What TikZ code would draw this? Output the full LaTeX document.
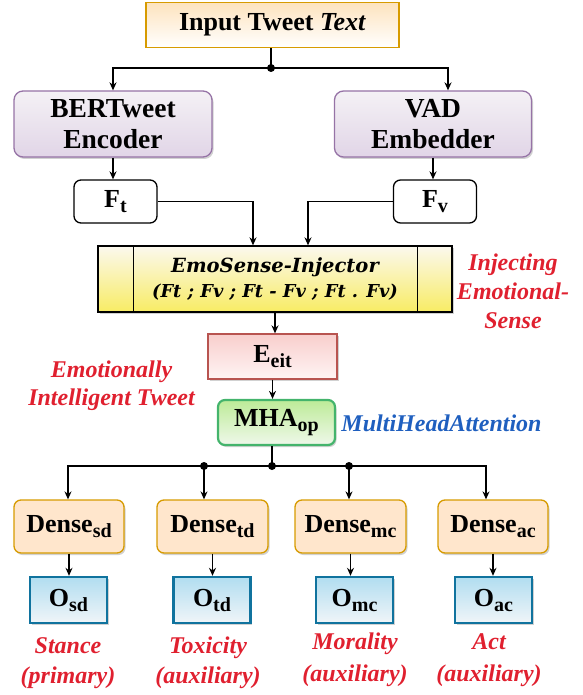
\documentclass[tikz,border=0pt]{standalone}
\usepackage{fontspec}
\setmainfont{Liberation Serif}
\newfontfamily\dvs{DejaVu Serif}
\usetikzlibrary{arrows.meta,shadows,calc}
\definecolor{redlab}{HTML}{E0202F}
\definecolor{bluelab}{HTML}{1F5FBF}
\definecolor{densefill}{HTML}{FFE6CC}
\definecolor{densestroke}{HTML}{D79B00}
\definecolor{otop}{HTML}{B1DDF0}
\definecolor{obot}{HTML}{F0F5F8}
\definecolor{ostroke}{HTML}{10739E}
\definecolor{purptop}{HTML}{F4F1F5}
\definecolor{purpbot}{HTML}{E1D5E7}
\definecolor{purpstroke}{HTML}{9673A6}
\definecolor{inptop}{HTML}{FDE3BE}
\definecolor{injtop}{HTML}{FBF8EE}
\definecolor{injbot}{HTML}{F8EC64}
\definecolor{etop}{HTML}{F8CECC}
\definecolor{ebot}{HTML}{FFF4F4}
\definecolor{estroke}{HTML}{B85450}
\definecolor{mtop}{HTML}{BDEB98}
\definecolor{mbot}{HTML}{EFF8EA}
\definecolor{mstroke}{HTML}{44B46C}
\newcommand{\sbx}[1]{\raisebox{-5pt}{\fontsize{20}{20}\selectfont #1}}
\begin{document}
\begin{tikzpicture}[x=1pt,y=-1pt,
 every node/.style={inner sep=0pt, align=center},
 lbl/.style={font=\fontsize{26}{31}\selectfont\bfseries},
 shad/.style={drop shadow={shadow xshift=1.5pt, shadow yshift=-2pt, opacity=0.18, fill=black}},
 inbox/.style={lbl, draw=#1, line width=1.3pt},
 arr/.style={-{Stealth[length=8pt,width=7pt]}, line width=1.2pt},
 ln/.style={line width=1.2pt},
 dot/.style={circle, fill=black, minimum size=8pt, inner sep=0pt},
 redl/.style={font=\fontsize{24}{30}\selectfont\bfseries\itshape, text=redlab},
 densebox/.style={inbox=densestroke, rounded corners=7pt, fill=densefill, shad, minimum width=110pt, minimum height=53pt},
 obox/.style={inbox=ostroke, line width=2.4pt, top color=otop, bottom color=obot, shad, minimum width=77pt, minimum height=46pt},
 fbox/.style={inbox=black, rounded corners=7pt, fill=white, minimum width=83pt, minimum height=43pt},
 purp/.style={inbox=purpstroke, rounded corners=9pt, top color=purptop, bottom color=purpbot, shad, minimum width=198pt, minimum height=66pt, font=\fontsize{27.5}{31}\selectfont\bfseries},
]
\useasboundingbox (0,0) rectangle (582,695);

% top
\node[inbox=densestroke, top color=inptop, bottom color=white, minimum width=253pt, minimum height=45pt] (inp) at (272.5,25) {Input Tweet \textit{Text}};
\coordinate (j1) at (271,68);
\node[purp] (bert) at (113,124) {BERTweet\\Encoder};
\node[purp, minimum width=197pt] (vad) at (433,124) {VAD\\Embedder};
\node[fbox] (ft) at (115.5,201.5) {F\sbx{t}};
\node[fbox] (fv) at (435,201.5) {F\sbx{v}};

\node[draw=black, line width=1.3pt, top color=injtop, bottom color=injbot, shad, minimum width=354pt, minimum height=66pt] (inj) at (275,279)
 {{\dvs\bfseries\itshape\fontsize{19.5}{19.5}\selectfont EmoSense-Injector}\\[6pt]{\dvs\bfseries\itshape\fontsize{17.8}{17.8}\selectfont (Ft ; Fv ; Ft - Fv ; Ft . Fv)}};
\draw[line width=1.3pt] ($(inj.north west)+(36,0)$) -- ($(inj.south west)+(36,0)$);
\draw[line width=1.3pt] ($(inj.north east)+(-35,0)$) -- ($(inj.south east)+(-35,0)$);

\node[inbox=estroke, top color=etop, bottom color=ebot, shad, minimum width=129pt, minimum height=45pt] (eeit) at (272.5,356.5) {E\sbx{eit}};
\node[inbox=mstroke, line width=2.2pt, rounded corners=7pt, top color=mtop, bottom color=mbot, shad, minimum width=117pt, minimum height=45pt] (mha) at (276.5,422.5) {MHA\sbx{op}};

\coordinate (j2) at (272,466);
\coordinate (j3) at (204,466);
\coordinate (j4) at (349,466);

\node[densebox] (dsd) at (69,526.5) {Dense\sbx{sd}};
\node[densebox, minimum width=111pt] (dtd) at (212.5,526.5) {Dense\sbx{td}};
\node[densebox, minimum width=111pt] (dmc) at (350.5,526.5) {Dense\sbx{mc}};
\node[densebox] (dac) at (493,526.5) {Dense\sbx{ac}};

\node[obox] (osd) at (68.5,600) {O\sbx{sd}};
\node[obox] (otd) at (212,600) {O\sbx{td}};
\node[obox] (omc) at (354.5,600) {O\sbx{mc}};
\node[obox] (oac) at (493.5,600) {O\sbx{ac}};

% labels
\node[redl] (lsd) at (68,663) {Stance\\(primary)};
\node[redl] (ltd) at (208,663) {Toxicity\\(auxiliary)};
\node[redl, font=\fontsize{24}{32}\selectfont\bfseries\itshape] (lmc) at (355,660) {Morality\\(auxiliary)};
\node[redl, font=\fontsize{24}{32}\selectfont\bfseries\itshape] (lac) at (489,660) {Act\\(auxiliary)};
\node[redl, font=\fontsize{24}{29}\selectfont\bfseries\itshape] (linj) at (513,291) {Injecting\\Emotional-\\Sense};
\node[redl, font=\fontsize{24}{28}\selectfont\bfseries\itshape] (leit) at (111.5,386) {Emotionally\\Intelligent Tweet};
\node[font=\fontsize{24}{28}\selectfont\bfseries\itshape, text=bluelab] (lmha) at (441.5,423) {MultiHeadAttention};

% connectors
\draw[ln] (inp.south -| j1) -- (j1);
\draw[arr] (j1) -| (bert.north);
\draw[arr] (j1) -| ([xshift=15pt]vad.north);
\node[dot] at (j1) {};
\draw[arr] (bert.south) -- (bert.south |- ft.north);
\draw[arr] (vad.south) -- (vad.south |- fv.north);
\draw[arr] (ft.east) -| ($(inj.north)+(-22,0)$);
\draw[arr] (fv.west) -| ($(inj.north)+(33,0)$);
\draw[arr] (inj.south) -- (inj.south |- eeit.north);
\draw[arr] (eeit.south) -- (eeit.south |- mha.north);
\draw[ln] (mha.south -| j2) -- (j2);
\draw[arr] (j2) -| ([xshift=-1pt]dsd.north);
\draw[arr] (j3) -- (j3 |- dtd.north);
\draw[arr] (j4) -- (j4 |- dmc.north);
\draw[arr] (j2) -| ([xshift=-7pt]dac.north);
\node[dot] at (j2) {};
\node[dot] at (j3) {};
\node[dot] at (j4) {};
\draw[arr] (dsd.south) -- (dsd.south |- osd.north);
\draw[arr] (dtd.south) -- (dtd.south |- otd.north);
\draw[arr] (dmc.south) -- (dmc.south |- omc.north);
\draw[arr] (dac.south) -- (dac.south |- oac.north);
\end{tikzpicture}
\end{document}
